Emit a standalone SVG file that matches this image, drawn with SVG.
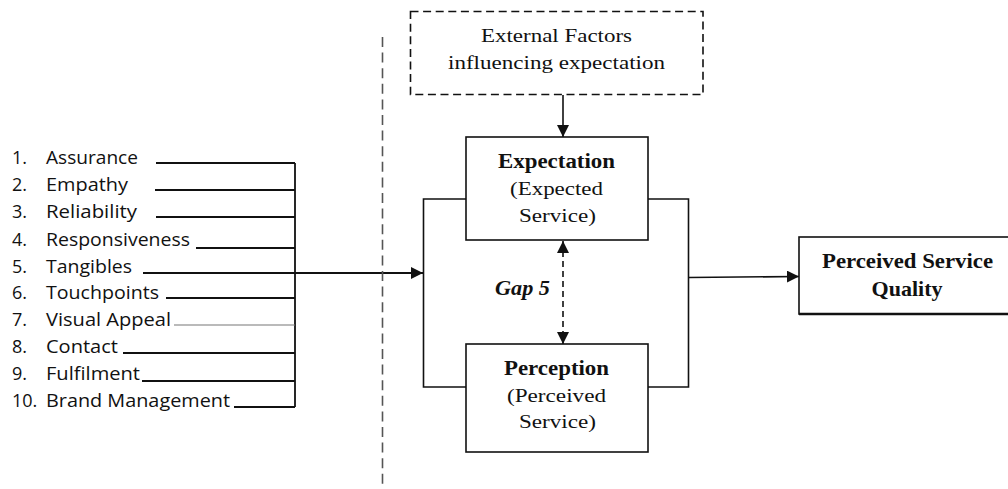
<svg xmlns="http://www.w3.org/2000/svg" width="1008" height="489" viewBox="0 0 1008 489">
<style>
.item{font-family:"Open Sans","Liberation Sans",sans-serif;font-size:18px;fill:#111}
.serif{font-family:"Liberation Serif","Times New Roman",serif;font-size:19px;fill:#111}
.b{font-weight:bold}
.box{fill:#fff;stroke:#111;stroke-width:1.6}
.ln{fill:none;stroke:#111;stroke-width:1.6}
.feed{fill:none;stroke:#111;stroke-width:1.8}
</style>
<defs>
<marker id="ah" viewBox="0 0 12 12" refX="12" refY="6" markerWidth="12" markerHeight="12" markerUnits="userSpaceOnUse" orient="auto-start-reverse">
<path d="M0,0 L12,6 L0,12 Z" fill="#111"/>
</marker>
</defs>

<g id="connectors">
<path class="feed" d="M156,163H295M155,190H295M156,217H295M196,248H295M166,298H295M123,353H295M142,381H295M234,407H295M295,163V407"/>
<path d="M174,325H295" fill="none" stroke="#777" stroke-width="1.1"/>
<path class="feed" d="M143,273H423" marker-end="url(#ah)"/>
<path d="M382.5,37V489" fill="none" stroke="#555" stroke-width="1.6" stroke-dasharray="10 5.6"/>
<path class="ln" d="M466,199H423.5V387H466"/>
<path class="ln" d="M648,199H688.5V387H648"/>
<path class="ln" d="M688.5,277.5L799,276.5" marker-end="url(#ah)"/>
<path class="ln" d="M563,95V137" marker-end="url(#ah)"/>
<path class="ln" d="M563,241V344" stroke-dasharray="6 4" marker-start="url(#ah)" marker-end="url(#ah)"/>
</g>

<g id="dimensions">
<text class="item" x="12" y="164">1.<tspan x="46" textLength="92" lengthAdjust="spacingAndGlyphs">Assurance</tspan></text>
<text class="item" x="12" y="191">2.<tspan x="46" textLength="82" lengthAdjust="spacingAndGlyphs">Empathy</tspan></text>
<text class="item" x="12" y="218">3.<tspan x="46" textLength="91" lengthAdjust="spacingAndGlyphs">Reliability</tspan></text>
<text class="item" x="12" y="245.5">4.<tspan x="46" textLength="144" lengthAdjust="spacingAndGlyphs">Responsiveness</tspan></text>
<text class="item" x="12" y="273">5.<tspan x="46" textLength="86" lengthAdjust="spacingAndGlyphs">Tangibles</tspan></text>
<text class="item" x="12" y="299">6.<tspan x="46" textLength="113" lengthAdjust="spacingAndGlyphs">Touchpoints</tspan></text>
<text class="item" x="12" y="326">7.<tspan x="46" textLength="125" lengthAdjust="spacingAndGlyphs">Visual Appeal</tspan></text>
<text class="item" x="12" y="353">8.<tspan x="46" textLength="72" lengthAdjust="spacingAndGlyphs">Contact</tspan></text>
<text class="item" x="12" y="380">9.<tspan x="46" textLength="94" lengthAdjust="spacingAndGlyphs">Fulfilment</tspan></text>
<text class="item" x="12" y="407">10.<tspan x="46" textLength="184" lengthAdjust="spacingAndGlyphs">Brand Management</tspan></text>
</g>

<g id="external">
<rect x="410.5" y="11.5" width="292.5" height="83" fill="#fff" stroke="#111" stroke-width="1.6" stroke-dasharray="8 4.6"/>
<text class="serif" x="556.5" y="42" text-anchor="middle" textLength="151" lengthAdjust="spacingAndGlyphs">External Factors</text>
<text class="serif" x="556.5" y="69" text-anchor="middle" textLength="217" lengthAdjust="spacingAndGlyphs">influencing expectation</text>
</g>

<g id="expectation">
<rect class="box" x="466" y="137" width="182" height="103"/>
<text class="serif b" x="556.5" y="168" text-anchor="middle" style="font-size:20px" textLength="117" lengthAdjust="spacingAndGlyphs">Expectation</text>
<text class="serif" x="556.5" y="195" text-anchor="middle" textLength="93" lengthAdjust="spacingAndGlyphs">(Expected</text>
<text class="serif" x="557.5" y="222" text-anchor="middle" textLength="77" lengthAdjust="spacingAndGlyphs">Service)</text>
</g>

<g id="gap">
<text class="serif b" x="495" y="295" style="font-size:22px;font-style:italic" textLength="55" lengthAdjust="spacingAndGlyphs">Gap 5</text>
</g>

<g id="perception">
<rect class="box" x="466" y="344" width="182" height="108"/>
<text class="serif b" x="556.5" y="375" text-anchor="middle" style="font-size:20px" textLength="105" lengthAdjust="spacingAndGlyphs">Perception</text>
<text class="serif" x="556.5" y="402" text-anchor="middle" textLength="99" lengthAdjust="spacingAndGlyphs">(Perceived</text>
<text class="serif" x="557.5" y="428" text-anchor="middle" textLength="77" lengthAdjust="spacingAndGlyphs">Service)</text>
</g>

<g id="quality">
<rect class="box" x="799" y="237" width="215" height="77"/>
<path d="M799,314H1008" stroke="#111" stroke-width="2.6"/>
<text class="serif b" x="907.5" y="268" text-anchor="middle" style="font-size:21px" textLength="171" lengthAdjust="spacingAndGlyphs">Perceived Service</text>
<text class="serif b" x="907" y="296" text-anchor="middle" style="font-size:21px" textLength="71" lengthAdjust="spacingAndGlyphs">Quality</text>
</g>
</svg>
